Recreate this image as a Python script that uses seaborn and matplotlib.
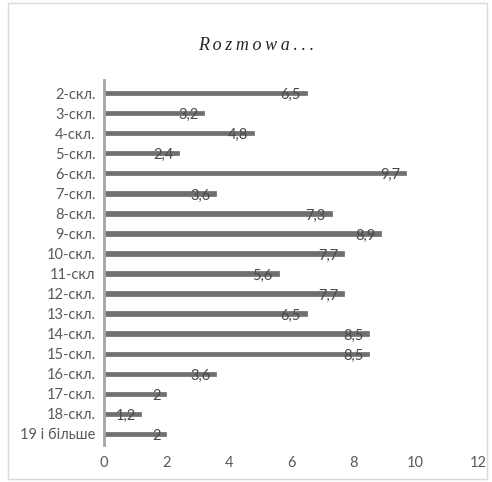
import matplotlib
matplotlib.use("Agg")
import matplotlib.pyplot as plt
import seaborn as sns
import pandas as pd
from matplotlib.patches import Rectangle

categories = ["2-скл.", "3-скл.", "4-скл.", "5-скл.", "6-скл.", "7-скл.", "8-скл.",
              "9-скл.", "10-скл.", "11-скл", "12-скл.", "13-скл.", "14-скл.", "15-скл.",
              "16-скл.", "17-скл.", "18-скл.", "19 і більше"]
values = [6.5, 3.2, 4.8, 2.4, 9.7, 3.6, 7.3, 8.9, 7.7, 5.6, 7.7, 6.5, 8.5, 8.5, 3.6, 2, 1.2, 2]
value_labels = ["6,5", "3,2", "4,8", "2,4", "9,7", "3,6", "7,3", "8,9", "7,7", "5,6",
                "7,7", "6,5", "8,5", "8,5", "3,6", "2", "1,2", "2"]
x_ticks = [0, 2, 4, 6, 8, 10, 12]
title = "Rozmowa..."

sns.set_theme(style="white")
plt.rcParams['font.family'] = ['Lato', 'DejaVu Sans']

df = pd.DataFrame({"cat": categories, "val": values})

fig = plt.figure(figsize=(4.92, 4.82), dpi=100)
fig.patches.append(Rectangle((8 / 492, 3 / 482), 479 / 492, 476 / 482, transform=fig.transFigure,
                             fill=False, edgecolor="#d9d9d9", linewidth=1.0))
ax = fig.add_axes([104 / 492, 1 - 445 / 482, (478 - 104) / 492, (445 - 80) / 482])

sns.barplot(data=df, y="cat", x="val", orient="h", color="#707070", width=0.22,
            saturation=1, ax=ax, edgecolor="#5a5a5a", linewidth=0.4)

ax.set_xlim(0, 12)
ax.set_ylim(17.55, -0.65)
ax.set_xticks(x_ticks)
ax.set_xticklabels([str(t) for t in x_ticks])
ax.set_xlabel("")
ax.set_ylabel("")
ax.tick_params(axis="both", length=0, labelsize=10.5, colors="#595959")
ax.tick_params(axis="x", pad=8)
ax.tick_params(axis="y", pad=6)
for s in ["top", "right", "bottom"]:
    ax.spines[s].set_visible(False)
ax.spines["left"].set_color("#a6a6a6")
ax.spines["left"].set_linewidth(2)

for i, (v, lab) in enumerate(zip(values, value_labels)):
    ax.annotate(lab, xy=(v, i), xytext=(-4, -1.5), textcoords="offset points",
                ha="right", va="center", fontsize=10.5, color="#4a4a4a")

fig.text(256 / 492, 1 - 45 / 482, "\u2009".join(title), ha="center", va="center",
         fontsize=13, fontstyle="italic", family=["Liberation Serif", "DejaVu Serif"],
         color="#262626")

fig.savefig("out.png", dpi=100)
